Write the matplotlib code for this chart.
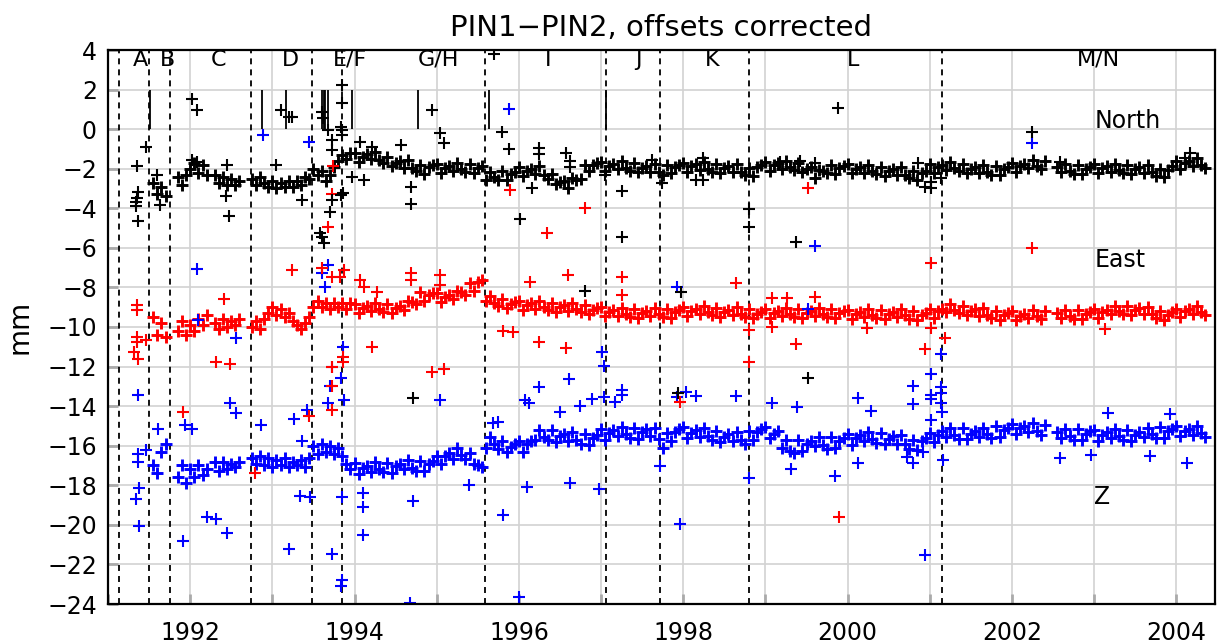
import numpy as np
import matplotlib
matplotlib.use('Agg')
import matplotlib.pyplot as plt

plt.rcParams['font.family'] = 'DejaVu Sans'

nan = np.nan

# --- dense daily bands, read every 0.05 yr starting at 1991.50 (mm) ---
north = [
    nan, -2.7, -3.3, -2.9, -3.4, nan, nan, -2.4, -2.8, -2.3,  # 1991.5
    -2.0, -1.7, -2.2, -1.8, -2.3, nan, -2.3, -2.7, -2.4, -2.8, -2.5, -2.8, -2.6, nan, nan, -2.5, -2.8, -2.4, -2.7, -2.9,  # 1992
    -2.6, -3.0, -2.7, -2.9, -2.6, -2.9, -2.6, -2.8, -2.4, -2.5, -2.0, -2.3, -2.1, -2.6, -2.3, -1.9, -1.6, -1.3, -1.5, -1.2,  # 1993
    -1.2, -1.65, -1.4, -1.25, -1.5, -1.15, -1.55, -1.7, -1.4, -1.85, -1.7, -1.6, -1.95, -1.55, -1.95, -2.1, -1.8, -2.25, -1.9, -1.8,  # 1994
    -1.75, -2.2, -1.95, -1.85, -2.1, -1.7, -2.0, -2.15, -1.75, -2.2, -1.95, -1.85, -2.55, -2.15, -2.4, -2.55, -2.1, -2.55, -2.25, -2.15,  # 1995
    -1.9, -2.35, -2.1, -2.0, -2.25, -1.85, -2.3, -2.5, -2.25, -2.75, -2.65, -2.6, -2.95, -2.45, -2.55, -2.5, -1.8, -2.1, -1.8, -1.7,  # 1996
    -1.65, -2.1, -1.85, -1.75, -2.0, -1.6, -1.95, -2.1, -1.7, -2.15, -1.95, -1.85, -2.15, -1.75, -2.15, -2.3, -1.8, -2.2, -1.9, -1.8,  # 1997
    -1.7, -2.15, -1.85, -1.75, -2.05, -1.65, -2.0, -2.15, -1.75, -2.2, -1.95, -1.85, -2.15, -1.75, -2.15, -2.3, -1.95, -2.35, -1.9, -1.8,  # 1998
    -1.65, -2.1, -1.8, -1.7, -2.0, -1.6, -1.9, -2.05, -1.7, -2.15, -2.0, -1.9, -2.45, -2.05, -2.1, -2.2, -1.8, -2.25, -1.95, -1.85,  # 1999
    -1.75, -2.2, -2.0, -1.9, -2.2, -1.8, -2.1, -2.25, -1.9, -2.35, -2.1, -2.0, -2.3, -1.9, -2.3, -2.45, -2.1, -2.55, -2.2, -2.1,  # 2000
    -1.75, -2.2, -1.9, -1.8, -2.05, -1.65, -1.95, -2.1, -1.75, -2.2, -2.0, -1.9, -2.2, -1.8, -2.15, -2.3, -1.85, -2.3, -2.0, -1.9,  # 2001
    -1.7, -2.15, -1.85, -1.75, -1.95, -1.55, -1.85, -2.0, -1.6, nan, nan, -1.9, -2.15, -1.75, -2.1, -2.25, -1.8, -2.25, -2.0, -1.9,  # 2002
    -1.75, -2.2, -1.95, -1.85, -2.15, -1.75, -2.05, -2.2, -1.8, -2.25, -2.0, -1.9, -2.2, -1.8, -2.15, -2.35, -2.0, -2.4, -2.05, -1.85,  # 2003
    -1.6, -2.0, -1.7, -1.6, -1.85, -1.45, -1.8, -1.95,  # 2004
]

east = [
    nan, -9.5, -10.4, -9.8, -10.5, nan, nan, -10.2, -9.7, -10.4,
    -9.9, -10.2, -9.6, -9.9, -9.4, nan, -9.8, -10.1, -9.6, -10.0, -9.7, -9.9, -9.6, nan, nan, -10.0, -9.7, -10.1, -9.6, -9.3,
    -9.0, -9.4, -9.1, -9.5, -9.3, -9.7, -9.9, -10.1, -9.8, -9.5, -9.0, -8.7, -9.0, -8.8, -9.1, -8.8, -9.0, -8.8, -9.1, -8.8,
    -8.85, -9.3, -9.05, -8.95, -9.2, -8.8, -9.1, -9.25, -8.85, -9.3, -9.05, -8.95, -9.15, -8.7, -8.75, -8.85, -8.25, -8.7, -8.4, -8.3,
    -8.3, -8.75, -8.5, -8.4, -8.6, -8.2, -8.25, -8.4, -7.8, -8.2, -7.75, -7.6, -8.7, -8.45, -8.8, -8.95, -8.6, -9.05, -8.85, -8.75,
    -8.7, -9.15, -8.9, -8.8, -9.1, -8.7, -9.0, -9.15, -8.8, -9.25, -9.0, -8.9, -9.2, -8.8, -9.1, -9.25, -8.9, -9.35, -9.15, -9.05,
    -9.0, -9.45, -9.25, -9.15, -9.45, -9.05, -9.35, -9.5, -9.1, -9.55, -9.3, -9.2, -9.45, -9.05, -9.35, -9.5, -9.1, -9.55, -9.25, -9.15,
    -9.0, -9.45, -9.2, -9.1, -9.35, -8.95, -9.25, -9.4, -9.05, -9.5, -9.25, -9.15, -9.4, -9.0, -9.35, -9.5, -9.1, -9.55, -9.35, -9.25,
    -9.1, -9.55, -9.3, -9.2, -9.45, -9.05, -9.35, -9.5, -9.1, -9.55, -9.3, -9.2, -9.45, -9.05, -9.35, -9.5, -9.1, -9.55, -9.3, -9.2,
    -9.15, -9.6, -9.35, -9.25, -9.5, -9.1, -9.4, -9.55, -9.15, -9.6, -9.35, -9.25, -9.5, -9.1, -9.4, -9.6, -9.2, -9.65, -9.4, -9.3,
    -9.1, -9.55, -9.2, -9.1, -9.25, -8.85, -9.15, -9.3, -8.95, -9.4, -9.2, -9.1, -9.45, -9.05, -9.4, -9.55, -9.2, -9.65, -9.4, -9.3,
    -9.2, -9.65, -9.45, -9.35, -9.55, -9.15, -9.45, -9.6, -9.2, nan, nan, -9.3, -9.55, -9.15, -9.45, -9.6, -9.15, -9.6, -9.35, -9.25,
    -9.1, -9.55, -9.25, -9.15, -9.35, -8.95, -9.2, -9.35, -8.95, -9.4, -9.15, -9.05, -9.35, -9.0, -9.35, -9.55, -9.2, -9.65, -9.4, -9.25,
    -9.1, -9.5, -9.2, -9.1, -9.35, -8.95, -9.25, -9.4,
]

up = [
    nan, -17.0, -17.4, -16.3, -15.9, nan, nan, -17.6, -17.0, -17.9,
    -17.2, -17.6, -17.0, -17.5, -17.2, nan, -16.8, -17.3, -16.8, -17.2, -16.9, -17.1, -16.8, nan, nan, -16.6, -16.9, -16.5, -17.0, -16.6,
    -17.1, -16.7, -17.0, -16.6, -17.1, -16.8, -17.0, -16.7, -17.1, -16.6, -16.0, -16.4, -15.9, -16.3, -16.0, -16.4, -16.1, -16.5, -16.9, -17.2,
    -16.85, -17.45, -17.15, -17.03, -17.33, -16.8, -17.16, -17.35, -16.85, -17.4, -17.05, -16.93, -17.18, -16.7, -17.11, -17.3, -16.75, -17.3, -16.9, -16.78,
    -16.5, -16.9, -16.5, -16.38, -16.68, -16.1, -16.46, -16.65, -16.35, -16.9, -17.0, -17.08, -16.13, -15.55, -15.91, -16.15, -15.75, -16.3, -16.05, -15.93,
    -15.75, -16.3, -15.9, -15.78, -15.73, -15.2, -15.56, -15.7, -15.2, -15.8, -15.5, -15.43, -15.78, -15.3, -15.71, -15.9, -15.4, -15.95, -15.6, -15.48,
    -15.15, -15.7, -15.35, -15.23, -15.53, -15.05, -15.41, -15.6, -15.1, -15.65, -15.3, -15.18, -15.53, -15.1, -15.66, -16.1, -15.35, -15.75, -15.3, -15.18,
    -15.05, -15.6, -15.35, -15.23, -15.58, -15.1, -15.51, -15.7, -15.25, -15.8, -15.55, -15.43, -15.78, -15.3, -15.71, -15.9, -15.25, -15.7, -15.3, -15.18,
    -15.05, -15.6, -15.4, -15.28, -16.13, -15.7, -16.26, -16.35, -15.7, -16.25, -15.9, -15.78, -16.03, -15.55, -15.96, -16.15, -15.55, -16.1, -15.75, -15.63,
    -15.4, -15.95, -15.6, -15.48, -15.78, -15.3, -15.66, -15.85, -15.35, -15.9, -15.65, -15.53, -15.93, -15.45, -15.91, -16.15, -15.7, -16.2, -15.75, -15.63,
    -15.35, -15.8, -15.45, -15.28, -15.58, -15.1, -15.46, -15.65, -15.1, -15.65, -15.4, -15.28, -15.58, -15.1, -15.41, -15.6, -15.0, -15.55, -15.2, -15.08,
    -14.9, -15.4, -15.1, -14.98, -15.33, -14.85, -15.26, -15.45, -14.95, nan, nan, -15.33, -15.63, -15.15, -15.51, -15.7, -15.15, -15.7, -15.4, -15.28,
    -15.2, -15.75, -15.45, -15.33, -15.63, -15.15, -15.51, -15.7, -15.2, -15.75, -15.45, -15.33, -15.58, -15.1, -15.41, -15.6, -15.05, -15.6, -15.25, -15.13,
    -15.0, -15.5, -15.25, -15.13, -15.48, -15.0, -15.36, -15.55,
]

# --- isolated points (year, mm) ---
north_out = [
    (1991.35, -1.85), (1991.36, -3.2), (1991.35, -3.5), (1991.34, -3.7), (1991.34, -3.9), (1991.36, -4.65),
    (1991.46, -0.89), (1991.60, -2.32), (1991.63, -3.84), (1992.02, 1.5), (1992.08, 0.96), (1992.02, -1.55),
    (1992.08, -1.65), (1992.45, -1.82), (1992.44, -3.4), (1992.47, -4.4), (1993.05, -1.82), (1993.10, 0.96),
    (1993.20, 0.59), (1993.24, 0.59), (1993.36, -3.6), (1993.60, 0.87), (1993.62, 0.54), (1993.68, -0.05),
    (1993.84, 0.12), (1993.85, -0.05), (1993.85, 1.33), (1993.85, 2.22), (1993.85, -0.3), (1993.72, -0.55),
    (1993.72, -1.06), (1993.72, -3.6), (1993.70, -4.2), (1993.86, -3.25), (1993.58, -5.25), (1993.61, -5.45),
    (1993.63, -5.75), (1993.97, -2.4), (1994.11, -2.58), (1993.83, -3.33), (1994.07, -0.64), (1994.21, -0.89),
    (1994.56, -0.8), (1994.69, -2.9), (1994.69, -3.8), (1994.94, 0.96), (1995.04, -0.22), (1995.09, -0.69),
    (1995.70, 3.79), (1995.80, -0.13), (1995.88, -1.0), (1996.01, -4.56), (1996.16, -2.98), (1996.25, -0.97),
    (1996.25, -1.28), (1996.57, -1.23), (1996.62, -1.6), (1996.62, -1.9), (1996.81, -8.2), (1994.71, -13.6),
    (1997.25, -3.15), (1997.25, -5.47), (1997.62, -1.55), (1997.74, -2.7), (1998.16, -2.58), (1998.24, -2.58),
    (1998.24, -1.48), (1998.80, -4.06), (1998.80, -4.93), (1999.18, -1.65), (1999.42, -1.6), (1999.60, -1.7),
    (1999.37, -5.69), (1997.97, -8.25), (1997.93, -13.35), (1999.52, -12.56), (1997.05, -2.32), (1999.88, 1.06),
    (2002.24, -0.13), (2000.86, -1.7), (2000.94, -2.91), (2001.02, -3.0), (2001.02, -2.66), (2001.14, -2.49),
    (2002.58, -1.65), (2004.17, -1.23), (2004.10, -1.48),
]

east_out = [
    (1991.35, -8.9), (1991.35, -9.14), (1991.35, -10.5), (1991.35, -10.74), (1991.32, -11.25), (1991.36, -11.63),
    (1991.46, -10.66), (1993.24, -7.12), (1993.68, -4.93), (1993.61, -7.04), (1993.72, -7.46), (1993.82, -7.46),
    (1993.87, -7.12), (1994.07, -7.63), (1994.11, -7.96), (1994.27, -8.22), (1994.21, -11.0), (1992.32, -11.75),
    (1992.48, -11.87), (1991.91, -14.28), (1992.41, -8.59), (1993.86, -11.5), (1993.86, -11.75), (1993.72, -12.0),
    (1993.72, -13.0), (1993.73, -14.2), (1993.45, -14.5), (1992.79, -17.4), (1993.74, -1.87), (1993.72, -3.28),
    (1995.89, -3.08), (1996.81, -3.97), (1996.34, -5.24), (1994.69, -7.29), (1994.69, -7.63), (1995.04, -7.37),
    (1995.04, -7.88), (1996.14, -7.75), (1996.60, -7.37), (1995.81, -10.19), (1995.93, -10.24), (1996.25, -10.74),
    (1996.57, -11.08), (1994.94, -12.29), (1995.09, -12.14), (1999.52, -3.0), (1997.25, -7.46), (1997.25, -8.38),
    (1998.64, -7.76), (1999.08, -8.55), (1999.26, -8.55), (1999.60, -8.47), (1998.80, -10.15), (1998.80, -11.75),
    (1999.08, -10.0), (1999.37, -10.86), (2000.23, -10.07), (1999.89, -19.58), (1997.96, -13.77), (2002.24, -6.0),
    (2001.01, -6.78), (2001.02, -10.07), (2000.94, -11.13), (2001.19, -10.54), (2003.13, -10.12),
]

up_out = [
    (1992.88, -0.3), (1993.45, -0.67), (1995.88, 1.01), (1992.08, -7.09), (1992.10, -9.65), (1992.56, -10.57),
    (1991.37, -13.43), (1992.48, -13.85), (1992.56, -14.33), (1993.68, -6.87), (1993.61, -7.26), (1993.64, -7.96),
    (1993.86, -11.0), (1993.72, -12.0), (1993.70, -13.0), (1993.84, -12.59), (1993.87, -13.69), (1993.68, -13.85),
    (1993.42, -14.2), (1993.26, -14.66), (1991.61, -15.17), (1991.94, -14.95), (1992.02, -15.17), (1992.86, -14.95),
    (1993.36, -15.74), (1992.21, -19.6), (1992.32, -19.7), (1992.45, -20.4), (1991.91, -20.84), (1991.38, -20.05),
    (1991.34, -18.7), (1991.38, -18.15), (1991.36, -16.4), (1991.36, -16.8), (1991.46, -16.2), (1993.20, -21.2),
    (1993.72, -21.46), (1993.85, -22.8), (1993.84, -23.1), (1993.85, -18.57), (1994.10, -20.5), (1994.10, -19.1),
    (1993.46, -18.57), (1993.34, -18.53), (1994.68, -23.95), (1995.81, -19.5), (1996.00, -23.64), (1996.25, -13.01),
    (1996.61, -12.64), (1997.01, -11.25), (1997.04, -11.97), (1996.08, -13.69), (1996.12, -13.85), (1995.04, -13.69),
    (1994.71, -18.79), (1994.10, -18.37), (1996.10, -18.1), (1995.39, -17.98), (1996.62, -17.9), (1996.97, -18.2),
    (1996.50, -14.28), (1996.74, -13.99), (1996.89, -13.65), (1997.03, -13.52), (1997.17, -13.77), (1995.69, -14.87),
    (1995.75, -14.78), (1999.60, -5.9), (1997.92, -7.96), (1999.52, -9.1), (1997.25, -13.2), (1997.25, -13.43),
    (1998.03, -13.27), (1998.16, -13.48), (1997.92, -13.52), (1998.64, -13.48), (2000.12, -13.57), (1999.08, -13.85),
    (1999.38, -14.02), (2000.29, -14.24), (1997.72, -17.02), (1999.31, -17.19), (1998.80, -17.64), (1999.85, -17.53),
    (2000.13, -16.88), (1997.96, -19.95), (2002.24, -0.69), (2001.14, -11.38), (2001.01, -12.37), (2000.80, -12.98),
    (2000.80, -13.89), (2001.02, -13.43), (2001.02, -13.65), (2001.14, -13.01), (2001.14, -13.32), (2001.14, -13.85),
    (2001.15, -14.28), (2001.02, -14.7), (2003.17, -14.33), (2003.92, -14.39), (2002.58, -16.63), (2002.96, -16.46),
    (2003.68, -16.51), (2004.13, -16.85), (2000.72, -16.55), (2000.80, -16.85), (2000.92, -16.3), (2001.16, -16.72),
    (2000.94, -21.5),
]

# segment boundaries, segment names and equipment events
breaks = [1991.13, 1991.50, 1991.76, 1992.74, 1993.48, 1993.85, 1995.59, 1997.06, 1997.72, 1998.80, 2001.15]
seg_names = ['A', 'B', 'C', 'D', 'E/F', 'G/H', 'I', 'J', 'K', 'L', 'M/N']
seg_pos = [1991.39, 1991.73, 1992.34, 1993.22, 1993.95, 1995.02, 1996.36, 1997.46, 1998.35, 2000.07, 2003.05]
events = [1991.505, 1992.876, 1993.164, 1993.61, 1993.63, 1993.646, 1993.68, 1993.967, 1994.77, 1995.64, 1997.06]

t = 1991.5 + 0.05 * np.arange(len(north))

fig = plt.figure(figsize=(12.23, 6.43), dpi=100)
ax = fig.add_axes([108 / 1223, 39 / 643, 1107 / 1223, 554 / 643])

# the daily bands are drawn a bit heavier so they read as a dense band
band = dict(ls='none', marker='+', ms=9, mew=2.1)
mk = dict(ls='none', marker='+', ms=8.5, mew=1.5)
ax.plot(t, up, color='#0000ff', **band)
ax.plot(t, east, color='#ff0000', **band)
ax.plot(t, north, color='black', **band)
for pts, c in [(up_out, '#0000ff'), (east_out, '#ff0000'), (north_out, 'black')]:
    a = np.array(pts)
    ax.plot(a[:, 0], a[:, 1], color=c, **mk)

for b in breaks:
    ax.axvline(b, color='black', lw=1.3, ls=(0, (3.3, 2.8)), zorder=1.5)
ax.vlines(events, 0, 2, color='black', lw=1.3)

for name, x in zip(seg_names, seg_pos):
    ax.text(x, 3.5, name, ha='center', va='center', fontsize=16)

ax.text(2003.0, 0.4, 'North', ha='left', va='center', fontsize=17)
ax.text(2003.0, -6.6, 'East', ha='left', va='center', fontsize=17)
ax.text(2003.0, -18.6, 'Z', ha='left', va='center', fontsize=17)

ax.set_xlim(1991.0, 2004.47)
ax.set_ylim(-24, 4)
years = np.arange(1991, 2005)
ax.set_xticks(years)
ax.set_xticklabels([str(y) if y % 2 == 0 else '' for y in years])
ax.set_yticks(np.arange(-24, 5, 2))
ax.grid(True, color='#d2d2d2', lw=1.2)
ax.set_axisbelow(True)
ax.tick_params(direction='in', color='#aaaaaa', length=7, width=2, labelsize=17, pad=8)
ax.tick_params(axis='x', pad=12)
for s in ax.spines.values():
    s.set_linewidth(1.6)

ax.set_ylabel('mm', fontsize=20, labelpad=10)
ax.set_title('PIN1\u2212PIN2, offsets corrected', fontsize=21, pad=10)

fig.savefig('out.png', dpi=100)
